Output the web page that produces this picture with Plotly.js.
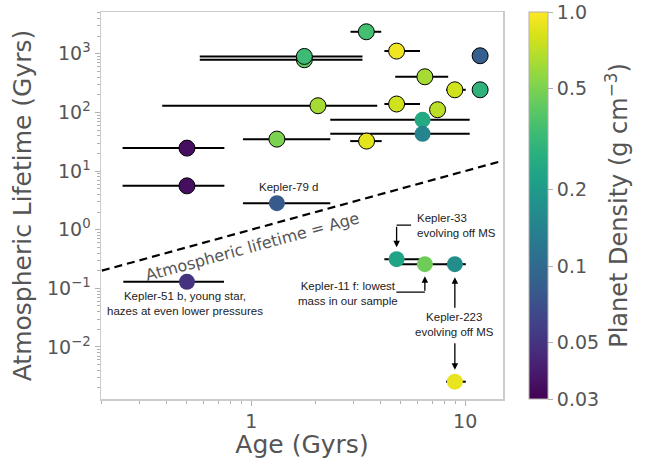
<!DOCTYPE html>
<html>
<head>
<meta charset="utf-8">
<script src="https://cdn.plot.ly/plotly-3.0.1.min.js"></script>
<style>html,body{margin:0;padding:0;background:#fff;}#chart{width:645px;height:459px;}</style>
</head>
<body>
<div id="chart"></div>
<script>
// ---- data ----
const age      = [3.45, 4.78, 11.75, 1.77, 1.77, 6.48, 8.95, 11.75, 2.05, 4.78, 7.43, 6.32, 6.32, 1.317, 3.46, 0.50, 0.50, 1.317, 0.50, 4.78, 6.48, 8.95, 8.95];
const ageLow   = [2.91, 4.19, 11.75, 0.574, 0.574, 4.71, 8.14, 11.75, 0.383, 4.19, 7.43, 2.34, 2.34, 0.914, 2.90, 0.25, 0.25, 0.914, 0.252, 4.19, 4.71, 8.14, 8.14];
const ageHigh  = [4.05, 6.15, 11.75, 3.31, 3.31, 8.33, 10.07, 11.75, 3.88, 6.15, 7.43, 10.5, 10.5, 2.34, 4.07, 0.748, 0.748, 2.34, 0.745, 6.15, 8.33, 10.07, 10.07];
const lifetime = [2370, 1110, 925, 790, 900, 405, 243, 243, 130, 139, 111, 74.8, 43.1, 35.0, 32.4, 24.6, 5.59, 2.83, 0.129, 0.314, 0.258, 0.258, 0.00256];
const density  = [0.35, 0.93, 0.086, 0.42, 0.33, 0.63, 0.78, 0.29, 0.63, 0.78, 0.70, 0.25, 0.145, 0.50, 0.87, 0.034, 0.034, 0.08, 0.05, 0.23, 0.46, 0.167, 0.9];
const outlined = [1, 1, 1, 1, 1, 1, 1, 1, 1, 1, 1, 0, 0, 1, 1, 1, 1, 0, 0, 0, 0, 0, 0];
const oneToOne = [0.2, 15];
const densityTicks  = [0.03, 0.05, 0.1, 0.2, 0.5, 1.0];
const densityLabels = ['0.03', '0.05', '0.1', '0.2', '0.5', '1.0'];
const xMajor = [1, 10];
const xMajorLabels = ['1', '10'];
const yMajor = [0.01, 0.1, 1, 10, 100, 1000];
const yMajorLabels = ['10<sup>\u22122</sup>', '10<sup>\u22121</sup>', '10<sup>0</sup>', '10<sup>1</sup>', '10<sup>2</sup>', '10<sup>3</sup>'];

// ---- helpers ----
const L = Math.log10;
function minors(lo, hi) { const out = []; for (let e = lo; e <= hi; e++) for (let m = 2; m <= 9; m++) out.push(m * Math.pow(10, e)); return out; }
const grey = '#555555', frame = '#cccccc', tickc = '#b0b0b0';
const dv = 'DejaVu Sans, sans-serif', ar = 'Liberation Sans, Arial, sans-serif';

const dashed = {
  x: oneToOne, y: oneToOne, mode: 'lines', type: 'scatter',
  line: {color: 'black', width: 2.2, dash: '8px,5px'}, hoverinfo: 'skip', showlegend: false
};

const pts = {
  x: age, y: lifetime, type: 'scatter', mode: 'markers', showlegend: false,
  error_x: {type: 'data', symmetric: false,
    array: age.map((a, i) => ageHigh[i] - a),
    arrayminus: age.map((a, i) => a - ageLow[i]),
    color: 'black', thickness: 2, width: 0},
  marker: {
    size: 16, color: density.map(d => L(d)), colorscale: 'Viridis',
    cmin: L(0.03), cmax: 0,
    line: {color: 'black', width: outlined.map(o => o ? 1 : 0)},
    colorbar: {
      x: 1.062, xanchor: 'left', xpad: 0, ypad: 0, y: 0.5, yanchor: 'middle',
      len: 1, lenmode: 'fraction', thickness: 19, thicknessmode: 'pixels',
      outlinecolor: tickc, outlinewidth: 1,
      tickvals: densityTicks.map(L), ticktext: densityLabels,
      ticks: 'outside', ticklen: 5, tickcolor: tickc,
      tickfont: {family: dv, size: 19, color: grey},
      title: {text: 'Planet Density (g cm<sup>\u22123</sup>)', side: 'right', font: {family: dv, size: 24, color: grey}}
    }
  }
};

const i33 = 19, i11 = 20, i223 = 21, i223b = 22, i79 = 17, i51 = 18;
const txt = (s) => ({family: ar, size: 11.5, color: '#222'});
function at(i) { return {x: L(age[i]), y: L(lifetime[i]), xref: 'x', yref: 'y'}; }

const annotations = [
  Object.assign(at(i79), {text: 'Kepler-79 d', showarrow: false, xshift: 12, yshift: 16, font: txt()}),
  Object.assign(at(i51), {text: 'Kepler-51 b, young star,<br>hazes at even lower pressures', showarrow: false, xshift: -2, yshift: -22, font: txt()}),
  // Kepler-33
  Object.assign(at(i33), {text: 'Kepler-33<br>evolving off MS', showarrow: false, xanchor: 'left', align: 'left', xshift: 18, yshift: 34, font: txt()}),
  Object.assign(at(i33), {text: '', showarrow: true, ax: 0, ay: -34, standoff: 12, arrowhead: 2, arrowsize: 1, arrowwidth: 1.3, arrowcolor: 'black'}),
  Object.assign(at(i33), {text: '', showarrow: true, ax: 16, ay: 0, yshift: 34, arrowhead: 0, arrowwidth: 1.3, arrowcolor: 'black'}),
  // Kepler-11 f
  Object.assign(at(i11), {text: 'Kepler-11 f: lowest<br>mass in our sample', showarrow: false, xshift: -77, yshift: -29, font: txt()}),
  Object.assign(at(i11), {text: '', showarrow: true, ax: 0, ay: 28, standoff: 12, arrowhead: 2, arrowsize: 1, arrowwidth: 1.3, arrowcolor: 'black'}),
  Object.assign(at(i11), {text: '', showarrow: true, ax: -30, ay: 0, yshift: -28, arrowhead: 0, arrowwidth: 1.3, arrowcolor: 'black'}),
  // Kepler-223
  Object.assign(at(i223), {text: 'Kepler-223<br>evolving off MS', showarrow: false, yshift: -60, font: txt()}),
  Object.assign(at(i223), {text: '', showarrow: true, ax: 0, ay: 45, standoff: 13, arrowhead: 2, arrowsize: 1, arrowwidth: 1.3, arrowcolor: 'black'}),
  Object.assign(at(i223b), {text: '', showarrow: true, ax: 0, ay: -40, standoff: 12, arrowhead: 2, arrowsize: 1, arrowwidth: 1.3, arrowcolor: 'black'}),
  // one-to-one label
  {x: L(1.017), y: L(0.515), xref: 'x', yref: 'y', text: 'Atmospheric lifetime = Age', showarrow: false, textangle: -15.3,
   font: {family: dv, size: 16, color: grey}}
];

const axisCommon = {
  type: 'log', showgrid: false, zeroline: false, showline: true, mirror: true,
  linecolor: frame, linewidth: 1.5, ticks: 'outside', ticklen: 5, tickwidth: 1, tickcolor: tickc,
  tickfont: {family: dv, size: 19, color: grey}, tickmode: 'array'
};

const layout = {
  width: 645, height: 459,
  margin: {l: 101, r: 141, t: 12, b: 60},
  paper_bgcolor: 'white', plot_bgcolor: 'white',
  xaxis: Object.assign({}, axisCommon, {
    range: [-0.703, 1.177], tickvals: xMajor, ticktext: xMajorLabels,
    minor: {tickmode: 'array', tickvals: minors(-1, 1), ticks: 'outside', ticklen: 3, tickcolor: tickc},
    title: {text: 'Age (Gyrs)', font: {family: dv, size: 25, color: grey}, standoff: 4}
  }),
  yaxis: Object.assign({}, axisCommon, {
    range: [-2.887, 3.712], tickvals: yMajor, ticktext: yMajorLabels,
    minor: {tickmode: 'array', tickvals: minors(-3, 3), ticks: 'outside', ticklen: 3, tickcolor: tickc},
    title: {text: 'Atmospheric Lifetime (Gyrs)', font: {family: dv, size: 25, color: grey}, standoff: 8}
  }),
  annotations: annotations
};

Plotly.newPlot('chart', [dashed, pts], layout, {displayModeBar: false, staticPlot: true});
</script>
</body>
</html>
